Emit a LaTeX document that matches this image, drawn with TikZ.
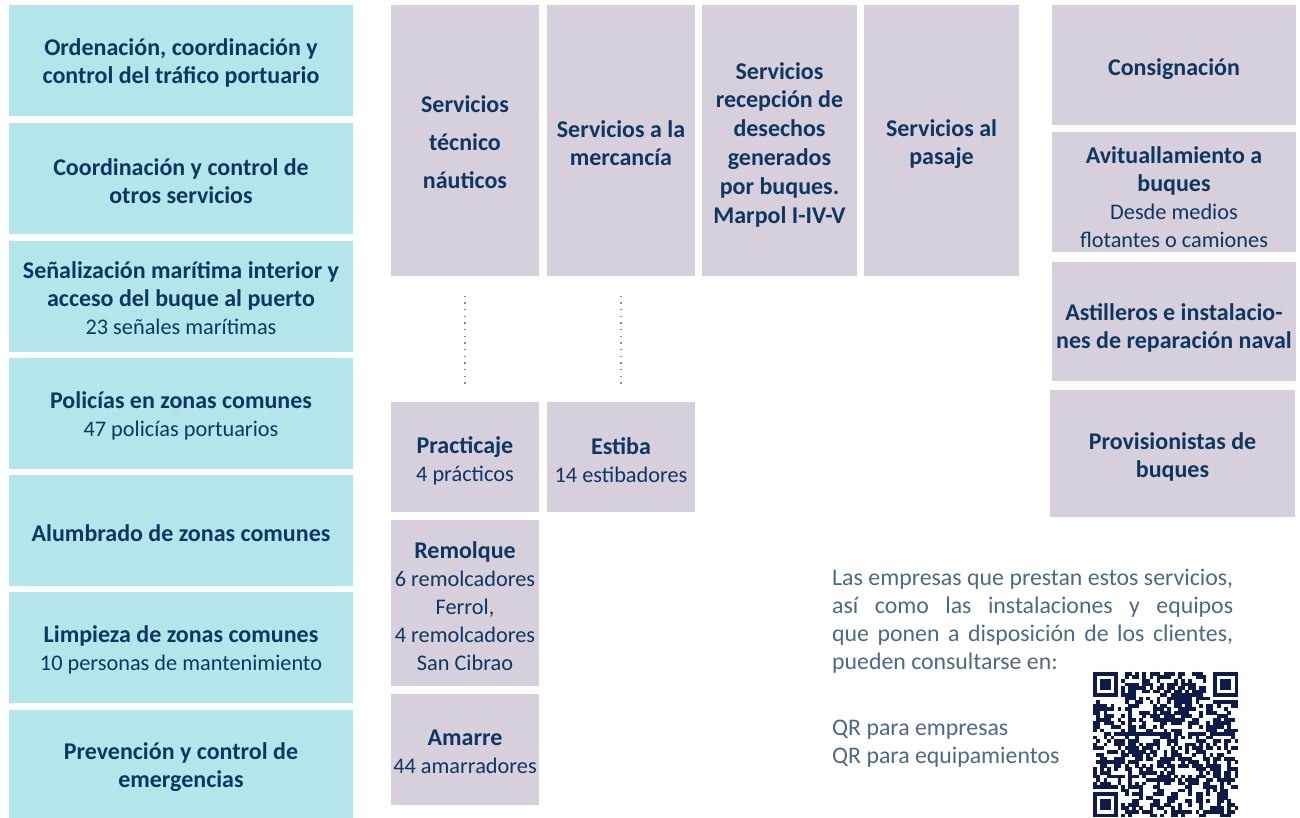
\documentclass[tikz,border=0pt]{standalone}
\usepackage{fontspec}
\setmainfont{Carlito}
\definecolor{tealbg}{HTML}{B3E5EA}
\definecolor{lilac}{HTML}{D7CFDC}
\definecolor{navy}{HTML}{0D3760}
\definecolor{paratext}{HTML}{4A6A88}
\definecolor{qrc}{HTML}{0E1A48}
\definecolor{dotgray}{HTML}{8A8A8A}
\newcommand\rg[1]{{\fontsize{22.3}{28}\selectfont #1}}
% name, box style, centre, text shift, text style, text
\newcommand\tbox[6]{%
  \node[#2] (#1) at #3 {};
  \node[boxtext,#5] (#1-t) at ([yshift=#4]#1.center) {#6};}
\begin{document}
\begin{tikzpicture}[x=1pt,y=-1pt,
  boxtext/.style={inner sep=0pt, align=center, text=navy, font=\bfseries\fontsize{24}{28}\selectfont},
  lbox/.style={inner sep=0pt, fill=tealbg, minimum width=344pt, minimum height=111pt},
  pbox/.style={inner sep=0pt, fill=lilac},
  dotline/.style={draw=dotgray, line width=1.6pt, dash pattern=on 1.4pt off 5.27pt},
  para/.style={inner sep=0pt, text=paratext, font=\fontsize{23.8}{28}\selectfont}
]
\useasboundingbox[fill=white] (0,0) rectangle (1300,817);

% left column
\tbox{l1}{lbox}{(181,60.5)}{-2.5pt}{}{Ordenación, coordinación y\\control del tráfico portuario}
\tbox{l2}{lbox}{(181,178.5)}{-2.5pt}{}{Coordinación y control de\\otros servicios}
\tbox{l3}{lbox}{(181,296.5)}{-2pt}{}{Señalización marítima interior y\\acceso del buque al puerto\\\rg{\mdseries 23 señales marítimas}}
\tbox{l4}{lbox}{(181,413.5)}{-2.5pt}{}{Policías en zonas comunes\\\rg{\mdseries 47 policías portuarios}}
\tbox{l5}{lbox}{(181,530.5)}{-2.5pt}{}{Alumbrado de zonas comunes}
\tbox{l6}{lbox}{(181,647.5)}{-2.5pt}{}{Limpieza de zonas comunes\\\rg{\mdseries 10 personas de mantenimiento}}
\tbox{l7}{lbox, minimum height=114pt}{(181,767)}{-0.5pt}{}{Prevención y control de\\emergencias}

% top middle columns
\tbox{tn}{pbox, minimum width=148pt, minimum height=271pt}{(465,140.5)}{-2pt}{font=\bfseries\fontsize{24}{38}\selectfont}{Servicios\\técnico\\náuticos}
\tbox{me}{pbox, minimum width=148pt, minimum height=271pt}{(621,140.5)}{-2.5pt}{}{Servicios a la\\mercancía}
\tbox{de}{pbox, minimum width=155pt, minimum height=271pt}{(779.5,140.5)}{-4pt}{font=\bfseries\fontsize{24}{28.8}\selectfont}{Servicios\\recepción de\\desechos\\generados\\por buques.\\Marpol I-IV-V}
\tbox{pa}{pbox, minimum width=155pt, minimum height=271pt}{(941.5,140.5)}{-4pt}{}{Servicios al\\pasaje}

% lower middle
\tbox{prac}{pbox, minimum width=148pt, minimum height=110pt}{(465,457)}{-4pt}{}{Practicaje\\\rg{\mdseries 4 prácticos}}
\tbox{est}{pbox, minimum width=148pt, minimum height=110pt}{(621,457)}{-3pt}{}{Estiba\\\rg{\mdseries 14 estibadores}}
\tbox{rem}{pbox, minimum width=148pt, minimum height=166pt}{(465,603)}{-3pt}{}{Remolque\\\rg{\mdseries 6 remolcadores}\\\rg{\mdseries Ferrol,}\\\rg{\mdseries 4 remolcadores}\\\rg{\mdseries San Cibrao}}
\tbox{am}{pbox, minimum width=148pt, minimum height=111pt}{(465,749.5)}{-2.5pt}{}{Amarre\\\rg{\mdseries 44 amarradores}}

% right column
\tbox{r1}{pbox, minimum width=244pt, minimum height=120pt}{(1174,65)}{-4.5pt}{}{Consignación}
\tbox{r2}{pbox, minimum width=244pt, minimum height=120pt}{(1174,192)}{-5pt}{}{Avituallamiento a\\buques\\\rg{\mdseries Desde medios}\\\rg{\mdseries flotantes o camiones}}
\tbox{r3}{pbox, minimum width=244pt, minimum height=119pt}{(1174,321.5)}{-6pt}{}{Astilleros e instalacio-\\nes de reparación naval}
\tbox{r4}{pbox, minimum width=245pt, minimum height=127pt}{(1172.5,453.5)}{-3.5pt}{}{Provisionistas de\\buques}

% dotted connectors
\draw[dotline, shorten <=19.5pt, shorten >=16.5pt] (tn.south) -- (prac.north);
\draw[dotline, shorten <=19.5pt, shorten >=16.5pt] (me.south) -- (est.north);

% paragraph
\node[para, text width=401pt, align=justify, anchor=base west] (txt) at (832,585)
  {\hyphenpenalty=10000 Las empresas que prestan estos servicios,\linebreak así como las instalaciones y equipos\linebreak que ponen a disposición de los clientes,\linebreak pueden consultarse en:};
\node[para, anchor=base west, align=left] (qrt) at (832,763) {QR para empresas\\QR para equipamientos};

% QR code
\def\qx{1093}\def\qy{672}\def\m{3.54}
\pgfmathsetseed{4711}
\foreach \i in {0,...,40}{
  \foreach \j in {0,...,40}{
    \pgfmathtruncatemacro\qrskip{((\i<8)*(\j<8)) + ((\i>32)*(\j<8)) + ((\i<8)*(\j>32))}
    \pgfmathrandominteger{\r}{0}{1}
    \ifnum\qrskip=0
      \ifnum\r=1
        \fill[qrc] ({\qx+\i*\m-0.1},{\qy+\j*\m-0.1}) rectangle ++(\m+0.2,\m+0.2);
      \fi
    \fi
  }
}
\foreach \ox/\oy in {0/0, 34/0, 0/34}{
  \fill[qrc] ({\qx+\ox*\m},{\qy+\oy*\m}) rectangle ++(7*\m,7*\m);
  \fill[white] ({\qx+(\ox+1)*\m},{\qy+(\oy+1)*\m}) rectangle ++(5*\m,5*\m);
  \fill[qrc] ({\qx+(\ox+2)*\m},{\qy+(\oy+2)*\m}) rectangle ++(3*\m,3*\m);
}
\end{tikzpicture}
\end{document}
